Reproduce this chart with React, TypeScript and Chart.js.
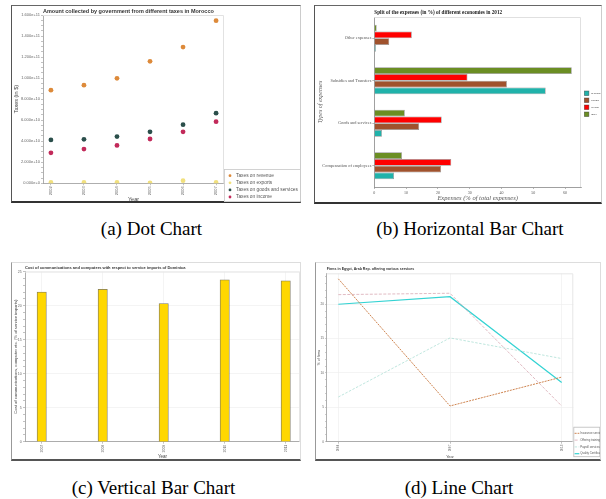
import React, { useEffect, useRef } from 'react';
import { Chart, registerables } from 'chart.js';

Chart.register(...registerables);

const SANS = "'Liberation Sans', Arial, sans-serif";
const SERIF = "'Liberation Serif', 'Times New Roman', serif";

// ---------- (a) Dot chart: taxes in Morocco ----------
const taxYears = ['2002', '2003', '2004', '2005', '2006', '2007'];
const taxSeriesNames = ['Taxes on revenue', 'Taxes on exports', 'Taxes on goods and services', 'Taxes on income'];
const taxOnRevenue = [88.5e9, 93.3e9, 99.8e9, 116e9, 129.5e9, 154.6e9];
const taxOnExports = [0.8e9, 0.8e9, 0.8e9, 0.3e9, 2.5e9, 0.8e9];
const taxOnGoods = [41.2e9, 41.8e9, 44.4e9, 48.9e9, 55.7e9, 66.7e9];
const taxOnIncome = [29.0e9, 32.5e9, 36.0e9, 42.1e9, 48.9e9, 58.6e9];
const taxColors = ['#dd8a3a', '#f1e07e', '#2b4f4b', '#c22a5a'];

// ---------- (b) Horizontal bar chart: expenses split ----------
const expenseTypes = ['Compensation of employees', 'Goods and services', 'Subsidies and Transfers', 'Other expenses'];
const economies = ['Belgium', 'Estonia', 'Iceland', 'India'];
const expBelgium = [6.2, 2.4, 53.9, 0.5];
const expEstonia = [21.0, 14.1, 41.7, 4.7];
const expIceland = [24.2, 21.2, 29.3, 11.8];
const expIndia = [8.7, 9.6, 62.1, 0.75];
const economyColors = ['#20b2aa', '#a0522d', '#ff0000', '#6b8e23'];

// ---------- (c) Vertical bar chart: Dominica ----------
const domYears = ['2007', '2008', '2009', '2010', '2011'];
const domCost = [22.0, 22.4, 20.3, 23.8, 23.65];

// ---------- (d) Line chart: firms in Egypt ----------
const egyptYears = ['2004', '2007', '2013'];
const egyptSeriesNames = ['Insurance services', 'Offering training', 'Payroll services', 'Quality Certification'];
const egyInsurance = [23.7, 5.2, 9.4];
const egyTraining = [21.4, 21.6, 5.2];
const egyPayroll = [6.5, 15.1, 12.1];
const egyQuality = [20.0, 21.1, 8.6];
const egyptColors = ['#c8763c', '#d9a9b4', '#aedfd5', '#35d3d3'];

const fmtExp = (v: number) => Number(v).toExponential(3);
const isMul = (v: number, m: number) => Math.abs(v / m - Math.round(v / m)) < 1e-9;

// draws light top/right frame lines of the plot area
const framePlugin = {
  id: 'frame',
  beforeDatasetsDraw(chart: any, _a: any, o: any) {
    if (!o || !o.lineColor) return;
    const { left, right, top, bottom } = chart.chartArea;
    const ctx = chart.ctx;
    ctx.save();
    ctx.strokeStyle = o.lineColor;
    ctx.lineWidth = 1;
    ctx.beginPath();
    ctx.moveTo(left, top + 0.5);
    ctx.lineTo(right - 0.5, top + 0.5);
    ctx.lineTo(right - 0.5, bottom);
    ctx.stroke();
    ctx.restore();
  },
};

// legend drawn from the datasets
const keyPlugin = {
  id: 'key',
  afterDraw(chart: any, _a: any, o: any) {
    if (!o || !o.show) return;
    const ctx = chart.ctx;
    ctx.save();
    if (o.boxW) {
      ctx.fillStyle = '#ffffff';
      ctx.fillRect(o.boxX, o.boxY, o.boxW, o.boxH);
      ctx.strokeStyle = o.boxColor;
      ctx.lineWidth = 0.8;
      ctx.strokeRect(o.boxX + 0.5, o.boxY + 0.5, o.boxW - 1, o.boxH - 1);
    }
    ctx.font = o.fontStr;
    ctx.textBaseline = 'middle';
    ctx.textAlign = 'left';
    const list = chart.data.datasets.slice();
    if (o.reverseOrder) list.reverse();
    list.forEach((ds: any, i: number) => {
      const y = o.y + i * o.gap;
      if (o.marker === 'circle') {
        ctx.fillStyle = ds.backgroundColor;
        ctx.beginPath();
        ctx.arc(o.markerX, y, o.size / 2, 0, Math.PI * 2);
        ctx.fill();
      } else if (o.marker === 'square') {
        ctx.fillStyle = ds.backgroundColor;
        ctx.fillRect(o.markerX, y - o.size / 2, o.size, o.size);
        ctx.strokeStyle = o.markerBorder;
        ctx.lineWidth = 0.6;
        ctx.strokeRect(o.markerX, y - o.size / 2, o.size, o.size);
      } else {
        ctx.strokeStyle = ds.borderColor;
        ctx.lineWidth = ds.borderWidth;
        ctx.setLineDash(ds.borderDash || []);
        ctx.beginPath();
        ctx.moveTo(o.markerX, y);
        ctx.lineTo(o.markerX + o.size, y);
        ctx.stroke();
        ctx.setLineDash([]);
      }
      ctx.fillStyle = o.textColor;
      ctx.fillText(ds.label, o.textX, y);
    });
    ctx.restore();
  },
};

const basePlugins = { legend: { display: false }, tooltip: { enabled: false } };

function configA(): any {
  const series = [taxOnRevenue, taxOnExports, taxOnGoods, taxOnIncome];
  return {
    type: 'scatter',
    data: {
      datasets: series.map((vals, i) => ({
        label: taxSeriesNames[i],
        data: vals.map((v, j) => ({ x: j, y: v })),
        backgroundColor: taxColors[i],
        borderColor: taxColors[i],
        borderWidth: 0,
        pointRadius: 2.4,
      })),
    },
    options: {
      responsive: false,
      animation: false,
      events: [],
      layout: { padding: { left: 0, right: 76, top: 0, bottom: 0 } },
      plugins: {
        ...basePlugins,
        title: {
          display: true,
          text: 'Amount collected by government from different taxes in Morocco',
          align: 'start',
          fullSize: false,
          color: '#333',
          font: { family: SANS, size: 5.5, weight: 'bold', lineHeight: 1.2 },
          padding: { top: 2.2, bottom: 0.2 },
        },
        frame: { lineColor: '#e2e2e2' },
        key: {
          show: true, boxX: 212, boxY: 163, boxW: 77, boxH: 33, boxColor: '#c8c8c8',
          marker: 'circle', markerX: 218, textX: 224, y: 169.7, gap: 7.1, size: 2.8,
          fontStr: `4.8px ${SANS}`, textColor: '#555',
        },
      },
      scales: {
        x: {
          type: 'linear', min: -0.24, max: 5.24,
          afterFit: (s: any) => { s.height = 18.7; },
          ticks: {
            stepSize: 1, includeBounds: false, autoSkip: false, minRotation: 90, maxRotation: 90,
            font: { family: SANS, size: 4 }, color: '#666', padding: 1,
            callback: (v: number) => taxYears[v] ?? '',
          },
          grid: { drawOnChartArea: false, tickLength: 2, tickColor: '#999', lineWidth: 0.6 },
          border: { color: '#999', width: 0.8 },
          title: { display: true, text: 'Year', color: '#444', font: { family: SANS, size: 5.5, lineHeight: 1 }, padding: { top: 0, bottom: 0 } },
        },
        y: {
          min: 0, max: 1.6e11,
          afterFit: (s: any) => { s.width = 31; },
          ticks: {
            stepSize: 5e9, autoSkip: false, font: { family: SANS, size: 4 }, color: '#666', padding: 1,
            callback: (v: number) => (isMul(v, 2e10) ? fmtExp(v) : ''),
          },
          grid: { drawOnChartArea: false, tickLength: 2, tickColor: '#999', lineWidth: 0.6 },
          border: { color: '#999', width: 0.8 },
          title: { display: true, text: 'Taxes (in $)', color: '#444', font: { family: SANS, size: 5.5 }, padding: { top: 1, bottom: 0 } },
        },
      },
    },
    plugins: [framePlugin, keyPlugin],
  };
}

function configB(): any {
  const series = [expBelgium, expEstonia, expIceland, expIndia];
  // bars inside each group run India (top) ... Belgium (bottom)
  const order = [3, 2, 1, 0];
  return {
    type: 'bar',
    data: {
      labels: expenseTypes,
      datasets: order.map((i) => ({
        label: economies[i],
        data: series[i],
        backgroundColor: economyColors[i],
        borderColor: 'rgba(60,60,60,0.55)',
        borderWidth: 0.7,
        categoryPercentage: 0.63,
        barPercentage: 1,
      })),
    },
    options: {
      indexAxis: 'y',
      responsive: false,
      animation: false,
      events: [],
      layout: { padding: { left: 0, right: 20, top: 0, bottom: 0 } },
      plugins: {
        ...basePlugins,
        title: {
          display: true,
          text: 'Split of the expenses (in %) of different economies in 2012',
          align: 'start',
          fullSize: false,
          color: '#222',
          font: { family: SERIF, size: 5.2, weight: 'bold', lineHeight: 1.2 },
          padding: { top: 3.5, bottom: 1.26 },
        },
        frame: { lineColor: '#e0e0e0' },
        key: {
          show: true, reverseOrder: true, marker: 'square', markerX: 269.3, size: 4.6, markerBorder: 'rgba(60,60,60,0.7)',
          textX: 275.7, y: 87.3, gap: 7, fontStr: `2.8px ${SERIF}`, textColor: '#333',
        },
      },
      scales: {
        x: {
          min: 0, max: 65,
          afterFit: (s: any) => { s.height = 15; },
          ticks: { stepSize: 10, includeBounds: false, font: { family: SERIF, size: 4 }, color: '#555', padding: 1.5 },
          grid: { drawOnChartArea: false, tickLength: 2, tickColor: '#888', lineWidth: 0.6 },
          border: { color: '#888', width: 0.8 },
          title: { display: true, text: 'Expenses (% of total expenses)', color: '#555', font: { family: SERIF, size: 6.5, style: 'italic', lineHeight: 1 }, padding: { top: 0, bottom: 0 } },
        },
        y: {
          reverse: true,
          afterFit: (s: any) => { s.width = 59.3; },
          ticks: { font: { family: SERIF, size: 4.3 }, color: '#555', padding: 1 },
          grid: { drawOnChartArea: false, offset: false, tickLength: 2, tickColor: '#888', lineWidth: 0.6 },
          border: { color: '#888', width: 0.8 },
          title: { display: true, text: 'Types of expenses', color: '#555', font: { family: SERIF, size: 6, style: 'italic' }, padding: { top: 1.4, bottom: 0 } },
        },
      },
    },
    plugins: [framePlugin, keyPlugin],
  };
}

function configC(): any {
  return {
    type: 'bar',
    data: {
      datasets: [{
        label: 'Cost of communications and computers',
        data: domCost.map((v, i) => ({ x: i, y: v })),
        backgroundColor: '#FFD700',
        borderColor: '#7d7763',
        borderWidth: 0.8,
        barThickness: 9.3,
      }],
    },
    options: {
      responsive: false,
      animation: false,
      events: [],
      layout: { padding: { left: 0, right: 0, top: 0, bottom: 0 } },
      plugins: {
        ...basePlugins,
        title: {
          display: true,
          text: 'Cost of communications and computers with respect to service imports of Dominica',
          align: 'start',
          fullSize: false,
          color: '#333',
          font: { family: SANS, size: 4, weight: 'bold', lineHeight: 1.2 },
          padding: { top: 2.9, bottom: 0.9 },
        },
        frame: { lineColor: '#e6e6e6' },
      },
      scales: {
        x: {
          type: 'linear', min: -0.274, max: 4.234, offset: false,
          afterFit: (s: any) => { s.height = 17.3; },
          ticks: {
            stepSize: 1, includeBounds: false, autoSkip: false, minRotation: 90, maxRotation: 90,
            font: { family: SANS, size: 3.5 }, color: '#666', padding: 1,
            callback: (v: number) => domYears[v] ?? '',
          },
          grid: { offset: false, color: '#ececec', tickColor: '#999', tickLength: 2, lineWidth: 0.6 },
          border: { color: '#999', width: 0.8 },
          title: { display: true, text: 'Year', color: '#444', font: { family: SANS, size: 4.5, lineHeight: 1 }, padding: { top: 0, bottom: 0 } },
        },
        y: {
          min: 0, max: 25,
          afterFit: (s: any) => { s.width = 13; },
          ticks: {
            stepSize: 1, autoSkip: false, font: { family: SANS, size: 3.5 }, color: '#666', padding: 1.3,
            callback: (v: number) => (isMul(v, 5) ? String(v) : ''),
          },
          grid: {
            color: (c: any) => (c.tick && isMul(c.tick.value, 5) ? '#ececec' : 'rgba(0,0,0,0)'),
            tickColor: '#999', tickLength: 2, lineWidth: 0.6,
          },
          border: { color: '#999', width: 0.8 },
          title: { display: true, text: 'Cost of communications, computer etc. (% of service imports)', color: '#444', font: { family: SANS, size: 4.2 }, padding: { top: 1.2, bottom: 0 } },
        },
      },
    },
    plugins: [framePlugin],
  };
}

function configD(): any {
  const series = [egyInsurance, egyTraining, egyPayroll, egyQuality];
  const dashes = [[2, 1], [3, 1.5], [2.5, 1.5], []];
  const widths = [0.9, 0.8, 0.8, 1.2];
  return {
    type: 'line',
    data: {
      datasets: series.map((vals, i) => ({
        label: egyptSeriesNames[i],
        data: vals.map((v, j) => ({ x: j, y: v })),
        borderColor: egyptColors[i],
        backgroundColor: egyptColors[i],
        borderWidth: widths[i],
        borderDash: dashes[i],
        pointRadius: 0,
        fill: false,
        tension: 0,
      })),
    },
    options: {
      responsive: false,
      animation: false,
      events: [],
      layout: { padding: { left: 0, right: 26.7, top: 0, bottom: 0 } },
      plugins: {
        ...basePlugins,
        title: {
          display: true,
          text: 'Firms in Egypt, Arab Rep. offering various services',
          align: 'start',
          fullSize: false,
          color: '#333',
          font: { family: SANS, size: 3.6, weight: 'bold', lineHeight: 1.2 },
          padding: { top: 3.8, bottom: 2.2 },
        },
        frame: { lineColor: '#e6e6e6' },
        key: {
          show: true, boxX: 257.3, boxY: 163.7, boxW: 27, boxH: 30.5, boxColor: '#bbbbbb',
          marker: 'line', markerX: 258.6, size: 4.7, textX: 264.3, y: 170.3, gap: 6.8,
          fontStr: `2.8px ${SANS}`, textColor: '#555',
        },
      },
      scales: {
        x: {
          type: 'linear', min: -0.104, max: 2.104,
          afterFit: (s: any) => { s.height = 18.3; },
          ticks: {
            stepSize: 1, includeBounds: false, autoSkip: false, minRotation: 90, maxRotation: 90,
            font: { family: SANS, size: 3 }, color: '#666', padding: 1,
            callback: (v: number) => egyptYears[v] ?? '',
          },
          grid: { color: '#ececec', tickColor: '#999', tickLength: 2, lineWidth: 0.6 },
          border: { color: '#999', width: 0.8 },
          title: { display: true, text: 'Year', color: '#444', font: { family: SANS, size: 3.8, lineHeight: 1 }, padding: { top: 0, bottom: 1.4 } },
        },
        y: {
          min: 0, max: 24.5,
          afterFit: (s: any) => { s.width = 10.7; },
          ticks: {
            stepSize: 1, includeBounds: false, autoSkip: false, font: { family: SANS, size: 3.2 }, color: '#666', padding: 1.2,
            callback: (v: number) => (isMul(v, 5) ? String(v) : ''),
          },
          grid: {
            color: (c: any) => (c.tick && isMul(c.tick.value, 5) ? '#ececec' : 'rgba(0,0,0,0)'),
            tickColor: '#999', tickLength: 1.5, lineWidth: 0.6,
          },
          border: { color: '#999', width: 0.8 },
          title: { display: true, text: '% of firms', color: '#444', font: { family: SANS, size: 3.5 }, padding: { top: 1.2, bottom: 0 } },
        },
      },
    },
    plugins: [framePlugin, keyPlugin],
  };
}

function ChartBox({ make, left, top, width, height }: any) {
  const ref = useRef<HTMLCanvasElement>(null);
  useEffect(() => {
    const chart = new Chart(ref.current as HTMLCanvasElement, make());
    return () => chart.destroy();
  }, []);
  return (
    <canvas
      ref={ref}
      width={width}
      height={height}
      style={{ position: 'absolute', left, top, width, height }}
    />
  );
}

function Panel({ left, top, width, height, border }: any) {
  return (
    <div
      style={{
        position: 'absolute', left, top, width, height, boxSizing: 'border-box',
        background: '#fff', ...border,
      }}
    />
  );
}

function Caption({ center, y, text }: any) {
  return (
    <div
      style={{
        position: 'absolute', left: center - 150, width: 300, top: y - 12, height: 24,
        lineHeight: '24px', textAlign: 'center', fontFamily: SERIF, fontSize: 19, color: '#000',
        whiteSpace: 'nowrap',
      }}
    >
      {text}
    </div>
  );
}

export default function App() {
  const darkFrame = { borderLeft: '1px solid #555', borderTop: '1px solid #666', borderBottom: '2px solid #333', borderRight: '1px solid #ccc' };
  const lightFrame = { borderLeft: '1px solid #999', borderTop: '1px solid #ddd', borderBottom: '2px solid #555', borderRight: '1px solid #ddd' };
  return (
    <div style={{ position: 'absolute', left: 0, top: 0, width: 606, height: 499, background: '#fff', overflow: 'hidden' }}>
      <Panel left={11} top={5} width={290} height={198} border={darkFrame} />
      <Panel left={314} top={5} width={288} height={199} border={darkFrame} />
      <Panel left={11} top={262} width={290} height={199} border={lightFrame} />
      <Panel left={315} top={262} width={286} height={199} border={lightFrame} />
      <ChartBox make={configA} left={12} top={6} width={288} height={196} />
      <ChartBox make={configB} left={315} top={6} width={286} height={196} />
      <ChartBox make={configC} left={12} top={263} width={288} height={196} />
      <ChartBox make={configD} left={316} top={263} width={284} height={197} />
      <Caption center={151.5} y={229} text="(a) Dot Chart" />
      <Caption center={470} y={229} text="(b) Horizontal Bar Chart" />
      <Caption center={153.5} y={488} text="(c) Vertical Bar Chart" />
      <Caption center={459} y={488} text="(d) Line Chart" />
    </div>
  );
}
